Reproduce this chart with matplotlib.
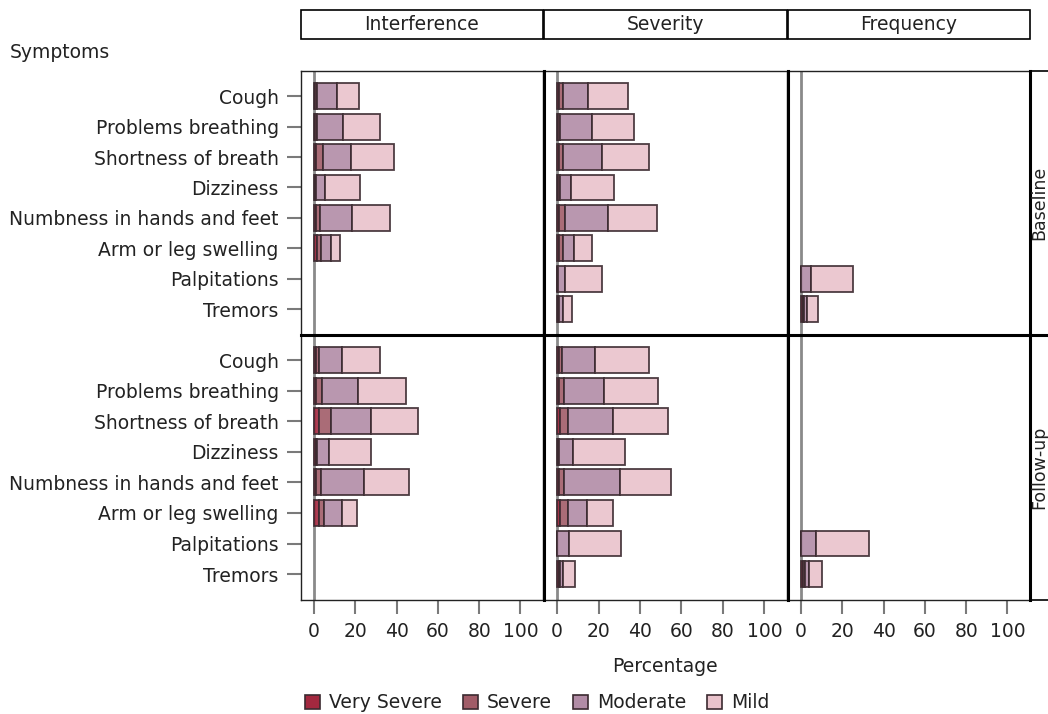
import matplotlib
matplotlib.use('Agg')
import matplotlib.pyplot as plt
from matplotlib.patches import Patch, Rectangle
from matplotlib.lines import Line2D
import numpy as np

# --- data -------------------------------------------------------------
symptoms = ['Cough', 'Problems breathing', 'Shortness of breath', 'Dizziness',
            'Numbness in hands and feet', 'Arm or leg swelling', 'Palpitations', 'Tremors']
measures = ['Interference', 'Severity', 'Frequency']
visits = ['Baseline', 'Follow-up']
levels = ['Very Severe', 'Severe', 'Moderate', 'Mild']

# percentages per symptom: [very severe, severe, moderate, mild]
base_interference = [[0.6, 0.7, 9.7, 10.8], [0.6, 0.7, 12.9, 17.8], [1.0, 3.5, 13.4, 20.6],
                     [0.5, 0.5, 4.3, 17.0], [0.8, 2.1, 15.6, 18.1], [1.3, 1.9, 4.9, 4.5],
                     [0, 0, 0, 0], [0, 0, 0, 0]]
base_severity = [[1.0, 1.9, 12.1, 19.2], [0.6, 0.7, 15.6, 20.2], [1.0, 1.9, 18.6, 22.9],
                 [0.6, 0.7, 5.2, 20.9], [1.0, 2.9, 20.6, 23.7], [1.0, 1.9, 5.2, 8.8],
                 [0, 0.5, 3.5, 17.5], [0.5, 0.5, 1.9, 4.2]]
base_frequency = [[0, 0, 0, 0], [0, 0, 0, 0], [0, 0, 0, 0], [0, 0, 0, 0],
                  [0, 0, 0, 0], [0, 0, 0, 0], [0, 0, 4.8, 20.4], [0.8, 0.8, 1.3, 5.2]]
follow_interference = [[1.2, 1.2, 11.3, 18.2], [0.8, 2.9, 17.4, 23.4], [2.4, 5.7, 19.3, 23.2],
                       [0.8, 0.8, 5.5, 20.6], [0.8, 2.4, 21.2, 21.6], [2.4, 2.4, 8.9, 7.3],
                       [0, 0, 0, 0], [0, 0, 0, 0]]
follow_severity = [[1.0, 1.3, 16.2, 25.7], [1.0, 2.5, 19.2, 25.8], [1.6, 3.9, 21.6, 26.3],
                   [0.5, 0.5, 6.7, 24.9], [1.0, 2.5, 26.7, 24.6], [1.6, 3.9, 8.9, 12.4],
                   [0, 0, 5.8, 25.2], [0.8, 0.8, 1.3, 5.8]]
follow_frequency = [[0, 0, 0, 0], [0, 0, 0, 0], [0, 0, 0, 0], [0, 0, 0, 0],
                    [0, 0, 0, 0], [0, 0, 0, 0], [0, 0, 7.1, 25.6], [1.0, 1.1, 1.8, 6.1]]

panels = [[base_interference, base_severity, base_frequency],
          [follow_interference, follow_severity, follow_frequency]]

colors = ['#A3283F', '#A15C68', '#B28CA6', '#E9C2CB']
edge = '#3b2a30'
text_col = '#222222'

plt.rcParams['font.family'] = 'DejaVu Sans'
plt.rcParams['text.color'] = text_col
FS = 13.5

W, H = 1048, 714
fig = plt.figure(figsize=(W / 100, H / 100), dpi=100)


def px_box(x0, x1, y0, y1):
    return [x0 / W, 1 - y1 / H, (x1 - x0) / W, (y1 - y0) / H]


col_px = [(301, 543), (544, 787), (788, 1030)]
row_px = [(71, 335), (335, 600)]
ypos = np.arange(len(symptoms))

for r, (y0, y1) in enumerate(row_px):
    for c, (x0, x1) in enumerate(col_px):
        ax = fig.add_axes(px_box(x0, x1, y0, y1))
        data = np.array(panels[r][c], dtype=float)
        ax.axvline(0, color='#8a8a8a', lw=2, zorder=1)
        left = np.zeros(len(symptoms))
        mask = data.sum(axis=1) > 0
        for k in range(len(levels)):
            vals = data[:, k]
            ax.barh(ypos[mask], vals[mask], left=left[mask], height=0.85,
                    color=colors[k], edgecolor=edge, linewidth=1.3, alpha=0.9, zorder=2)
            left += vals
        ax.set_xlim(-6.3, 110.9)
        ax.set_ylim(7.85, -0.83)
        for s in ax.spines.values():
            s.set_linewidth(1.0)
            s.set_color('#222222')
        ax.set_xticks([0, 20, 40, 60, 80, 100])
        ax.tick_params(axis='both', length=10, width=1.5, color='#7a7a7a',
                       labelsize=FS, labelcolor=text_col, pad=6)
        if c == 0:
            ax.set_yticks(ypos)
            ax.set_yticklabels(symptoms)
        else:
            ax.set_yticks([])
        if r == 1:
            ax.set_xticklabels(['0', '20', '40', '60', '80', '100'])
        else:
            ax.tick_params(axis='x', length=0, labelbottom=False)

# thick panel separators
for xs in [543.5, 787.5, 1030]:
    fig.add_artist(Line2D([xs / W, xs / W], [1 - 600 / H, 1 - 71 / H], color='black', lw=2.2))
fig.add_artist(Line2D([301 / W, 1], [1 - 335 / H, 1 - 335 / H], color='black', lw=2.2))
fig.add_artist(Line2D([1030 / W, 1], [1 - 71 / H, 1 - 71 / H], color='black', lw=1.2))
fig.add_artist(Line2D([1030 / W, 1], [1 - 600 / H, 1 - 600 / H], color='black', lw=1.2))

# column header strips
for (x0, x1), name in zip(col_px, measures):
    fig.add_artist(Rectangle((x0 / W, 1 - 39 / H), (x1 - x0) / W, 29 / H,
                             transform=fig.transFigure, facecolor='white',
                             edgecolor='black', lw=1.2))
    fig.text((x0 + x1) / 2 / W, 1 - 24.5 / H, name, ha='center', va='center', fontsize=FS)

# row header labels on the right edge
for (y0, y1), name in zip(row_px, visits):
    fig.text(1039.5 / W, 1 - (y0 + y1) / 2 / H, name, rotation=90,
             ha='center', va='center', fontsize=12.5)

fig.text(10 / W, 1 - 52 / H, 'Symptoms', ha='left', va='center', fontsize=FS)
fig.text(665 / W, 1 - 667 / H, 'Percentage', ha='center', va='center', fontsize=FS)

handles = [Patch(facecolor=colors[k], edgecolor=edge, linewidth=1.2) for k in range(4)]
fig.legend(handles, levels, ncol=4, loc='center left',
           bbox_to_anchor=(305 / W, 1 - 703 / H), frameon=False, fontsize=FS,
           handlelength=0.8, handleheight=0.8, handletextpad=0.5,
           columnspacing=1.1, borderaxespad=0, borderpad=0)

fig.savefig('out.png', dpi=100, facecolor='white')
